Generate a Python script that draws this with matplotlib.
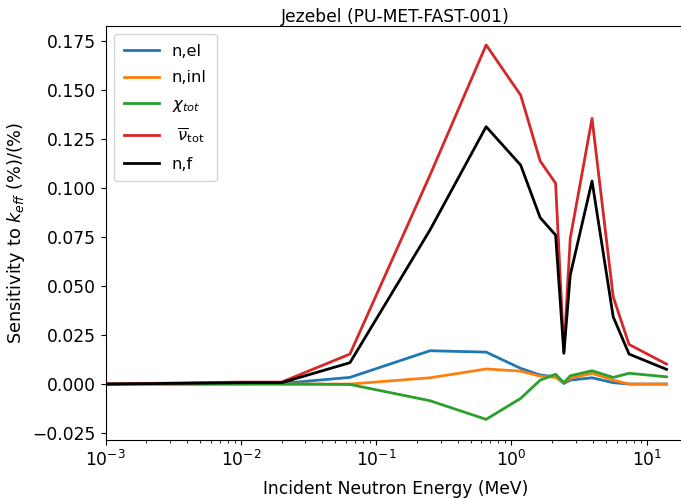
import numpy as np
import matplotlib
matplotlib.use("Agg")
import matplotlib.pyplot as plt

# energy grid (MeV) and sensitivities
energy = [0.001, 0.01, 0.02, 0.064, 0.25, 0.65, 1.17, 1.63, 2.12, 2.44, 2.72, 3.94, 5.65, 7.4, 14.0]

s_el = [0.0, 0.0002, 0.0003, 0.0034, 0.0170, 0.0163, 0.0080, 0.0046, 0.0037, 0.0003, 0.0020, 0.0032, 0.0007, 0.0, 0.0]
s_inl = [0.0, 0.0, 0.0, 0.0, 0.0032, 0.0077, 0.0066, 0.0040, 0.0034, 0.0007, 0.0029, 0.0055, 0.0020, 0.0, 0.0]
s_chi = [0.0, 0.0, 0.0, -0.0002, -0.0085, -0.0180, -0.0073, 0.0020, 0.0050, 0.0007, 0.0042, 0.0068, 0.0034, 0.0055, 0.0037]
s_nubar = [0.0, 0.0010, 0.0010, 0.0153, 0.1066, 0.1730, 0.1474, 0.1138, 0.1024, 0.0165, 0.0743, 0.1355, 0.0445, 0.0202, 0.0102]
s_fis = [0.0, 0.0007, 0.0007, 0.0109, 0.0786, 0.1313, 0.1117, 0.0849, 0.0760, 0.0157, 0.0556, 0.1036, 0.0343, 0.0153, 0.0075]

plt.rcParams["font.size"] = 12.3

fig = plt.figure(figsize=(6.81, 4.99), dpi=100)
# the original is cropped on the right, so the axes runs past the edge
ax = fig.add_axes([0.155, 0.118, 0.851, 0.83])

ax.plot(energy, s_el, color="tab:blue", lw=2, label="n,el")
ax.plot(energy, s_inl, color="tab:orange", lw=2, label="n,inl")
ax.plot(energy, s_chi, color="tab:green", lw=2, label=r"$\chi_{tot}$")
ax.plot(energy, s_nubar, color="tab:red", lw=2, label=r" $\overline{\nu}_{\mathrm{tot}}$")
ax.plot(energy, s_fis, color="black", lw=2, label="n,f")

ax.set_xscale("log")
ax.set_xlim(1e-3, 19.2)
ax.set_ylim(-0.0286, 0.1827)
ax.set_yticks(np.arange(-0.025, 0.176, 0.025))
ax.yaxis.set_major_formatter(matplotlib.ticker.StrMethodFormatter("{x:.3f}"))

ax.set_title("Jezebel (PU-MET-FAST-001)", fontsize=12.3, pad=2)
ax.set_xlabel("Incident Neutron Energy (MeV)", labelpad=7)
ax.set_ylabel(r"Sensitivity to $k_{eff}$ (%)/(%)", fontsize=12.8)
ax.legend(loc="upper left", fontsize=11.8, labelspacing=0.7, borderpad=0.6,
          handlelength=2.15)

fig.savefig("out.png", dpi=100)
